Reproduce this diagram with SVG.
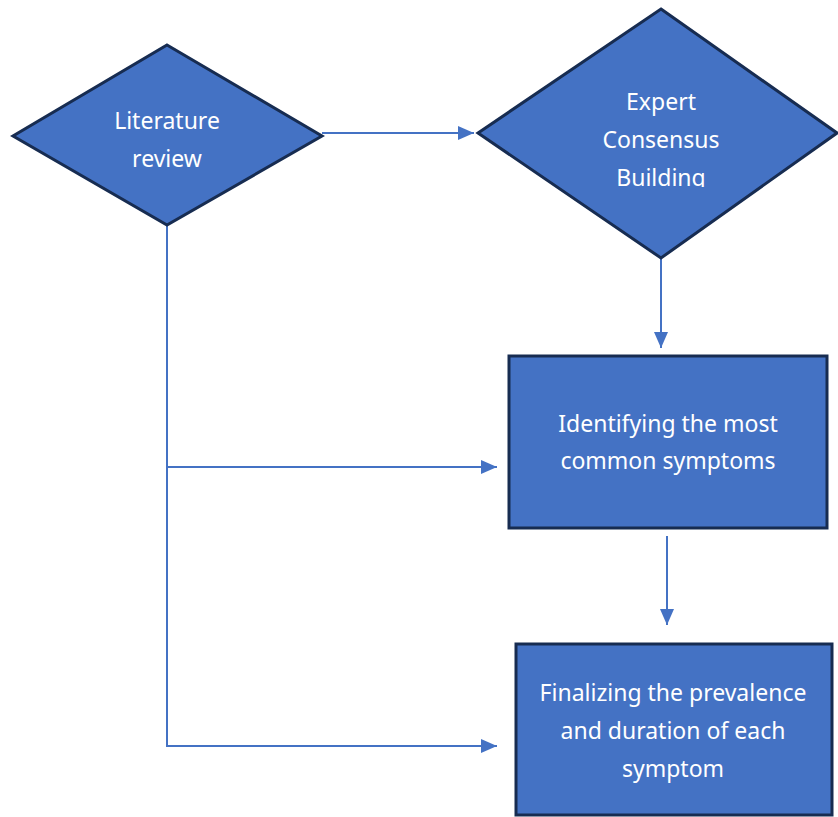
<svg xmlns="http://www.w3.org/2000/svg" width="838" height="817" viewBox="0 0 838 817">
<style>
.node{fill:#4472C4;stroke:#172C51;stroke-width:3}
.lbl{font-family:"Noto Sans","Open Sans",sans-serif;font-size:23px;fill:#FFFFFF;text-anchor:middle}
.con{fill:none;stroke:#4472C4;stroke-width:2}
</style>
<defs>
<marker id="arr" markerWidth="8" markerHeight="7" refX="8" refY="3.5" orient="auto" markerUnits="strokeWidth">
<path d="M0,0 L8,3.5 L0,7 Z" fill="#4472C4"/>
</marker>
<clipPath id="clipB"><rect x="560" y="160" width="200" height="27"/></clipPath>
</defs>
<rect width="838" height="817" fill="#FFFFFF"/>
<g id="connectors">
<path class="con" d="M322,133 H474" marker-end="url(#arr)"/>
<path class="con" d="M661,258 V348" marker-end="url(#arr)"/>
<path class="con" d="M667,536 V625" marker-end="url(#arr)"/>
<path class="con" d="M167,225 V746 H497" marker-end="url(#arr)"/>
<path class="con" d="M167,467 H497" marker-end="url(#arr)"/>
</g>
<g id="literature-review">
<polygon class="node" points="167,45 322,136 167,225 13,136"/>
<text class="lbl" x="167" y="129">Literature</text>
<text class="lbl" x="167" y="167">review</text>
</g>
<g id="expert-consensus">
<polygon class="node" points="661,9 837,133 661,258 478,133"/>
<text class="lbl" x="661" y="110">Expert</text>
<text class="lbl" x="661" y="148">Consensus</text>
<text class="lbl" x="661" y="186" clip-path="url(#clipB)">Building</text>
</g>
<g id="identifying">
<rect class="node" x="509" y="356" width="318" height="172"/>
<text class="lbl" x="668" y="432">Identifying the most</text>
<text class="lbl" x="668" y="469">common symptoms</text>
</g>
<g id="finalizing">
<rect class="node" x="516" y="644" width="316" height="171"/>
<text class="lbl" x="673" y="701">Finalizing the prevalence</text>
<text class="lbl" x="673" y="739">and duration of each</text>
<text class="lbl" x="673" y="777">symptom</text>
</g>
</svg>
